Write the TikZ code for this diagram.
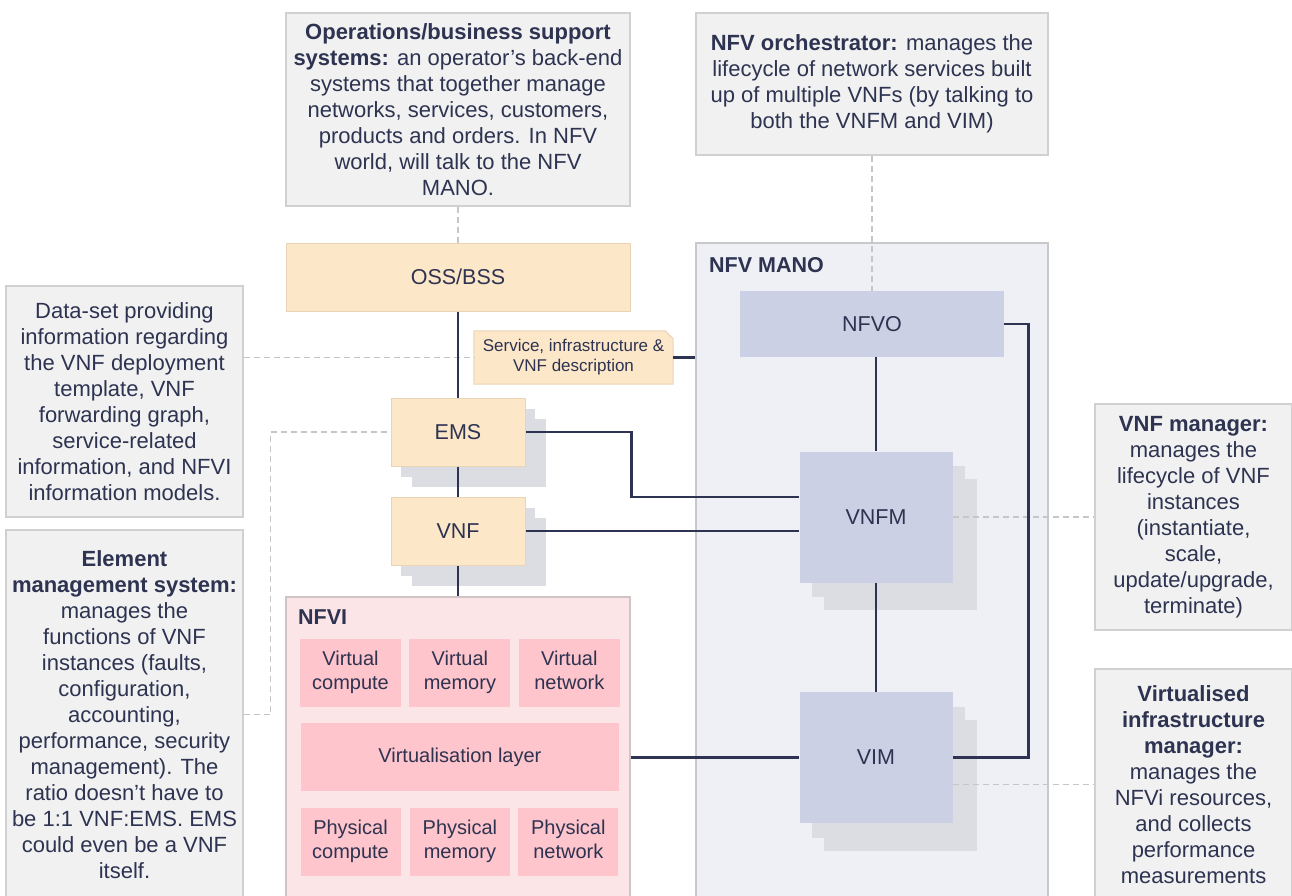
\documentclass[tikz,border=0pt]{standalone}
\usepackage{fontspec}
\setmainfont{Liberation Sans}
\usepackage{tikz}
\usetikzlibrary{backgrounds, positioning}
\definecolor{ink}{HTML}{2D3350}
\definecolor{boxgrey}{HTML}{F1F1F1}
\definecolor{boxline}{HTML}{D0D0D0}
\definecolor{peach}{HTML}{FDE7C9}
\definecolor{peachline}{HTML}{EAD4B6}
\definecolor{manofill}{HTML}{EFF0F6}
\definecolor{manoline}{HTML}{C8C8CD}
\definecolor{lilac}{HTML}{CBD0E4}
\definecolor{shade}{HTML}{DCDDE3}
\definecolor{nfvifill}{HTML}{FCE5E7}
\definecolor{nfviline}{HTML}{CFC3C5}
\definecolor{rose}{HTML}{FEC5CC}
\definecolor{hintgrey}{HTML}{C6C6C6}
\tikzstyle{textbox}=[rectangle, draw=boxline, fill=boxgrey, line width=1.2pt, inner sep=0pt, align=center, text=ink, font=\fontsize{22}{26}\selectfont]
\tikzstyle{peachbox}=[rectangle, draw=peachline, fill=peach, line width=1pt, inner sep=0pt, text=ink, font=\fontsize{21.5}{26}\selectfont]
\tikzstyle{frame}=[rectangle, line width=1.2pt, inner sep=0pt]
\tikzstyle{manobox}=[rectangle, fill=lilac, inner sep=0pt, text=ink, minimum width=153pt, minimum height=131pt, font=\fontsize{21.5}{26}\selectfont]
\tikzstyle{shadowbox}=[rectangle, fill=shade, inner sep=0pt]
\tikzstyle{pinkbox}=[rectangle, fill=rose, inner sep=0pt, align=center, text=ink, minimum height=68pt, font=\fontsize{20}{24}\selectfont]
\tikzstyle{title}=[anchor=west, inner sep=0pt, text=ink, font=\fontsize{21.5}{26}\selectfont\bfseries]
\tikzstyle{link}=[draw=ink, line width=2.6pt]
\tikzstyle{hint}=[draw=hintgrey, line width=1.2pt, dash pattern=on 6pt off 4pt]

\begin{document}
\begin{tikzpicture}[x=1pt, y=-1pt]
    \useasboundingbox (0,0) rectangle (1292,896);

    % explanation boxes
    \node[textbox, minimum width=344pt, minimum height=193pt] (osstxt) at (458,109.5)
        {\textbf{Operations/business support}\\ \textbf{systems:} an operator’s back-end\\ systems that together manage\\ networks, services, customers,\\ products and orders. In NFV\\ world, will talk to the NFV\\ MANO.};
    \node[textbox, minimum width=352pt, minimum height=142pt] (nfvotxt) at (872,84)
        {\textbf{NFV orchestrator:} manages the\\ lifecycle of network services built\\ up of multiple VNFs (by talking to\\ both the VNFM and VIM)};
    \node[textbox, minimum width=237pt, minimum height=231pt] (datatxt) at (124.5,401.5)
        {Data-set providing\\ information regarding\\ the VNF deployment\\ template, VNF\\ forwarding graph,\\ service-related\\ information, and NFVI\\ information models.};
    \node[textbox, minimum width=237pt, minimum height=369pt] (emstxt) at (124.5,714.5)
        {\textbf{Element}\\ \textbf{management system:}\\ manages the\\ functions of VNF\\ instances (faults,\\ configuration,\\ accounting,\\ performance, security\\ management). The\\ ratio doesn’t have to\\ be 1:1 VNF:EMS. EMS\\ could even be a VNF\\ itself.};
    \node[textbox, minimum width=197pt, minimum height=226pt] (vnfmtxt) at (1193.5,517)
        {\textbf{VNF manager:}\\ manages the\\ lifecycle of VNF\\ instances\\ (instantiate,\\ scale,\\ update/upgrade,\\ terminate)};
    \node[textbox, minimum width=197pt, minimum height=231pt] (vimtxt) at (1193.5,784.5)
        {\textbf{Virtualised}\\ \textbf{infrastructure}\\ \textbf{manager:}\\ manages the\\ NFVi resources,\\ and collects\\ performance\\ measurements};

    % containers
    \node[frame, draw=manoline, fill=manofill, minimum width=352pt, minimum height=657pt] (mano) at (872,571.5) {};
    \node[title] (manolbl) at (709,265) {NFV MANO};
    \node[frame, draw=nfviline, fill=nfvifill, minimum width=344pt, minimum height=303pt] (nfvi) at (458,748.5) {};
    \node[title] (nfvilbl) at (298,617) {NFVI};

    \node[peachbox, minimum width=344pt, minimum height=68pt] (oss) at (458,277) {OSS/BSS};
    \node[align=center, inner sep=0pt, text=ink, minimum width=199pt, minimum height=53pt, font=\fontsize{17}{20}\selectfont] (desc) at (573.5,357.5)
        {Service, infrastructure \&\\ VNF description};
    \begin{scope}[on background layer]
        \filldraw[fill=peach, draw=peachline, line width=1pt] (desc.south west) -- (desc.north west)
            -- ([xshift=-8pt]desc.north east) -- ([yshift=-8pt]desc.north east) -- (desc.south east) -- cycle;
    \end{scope}

    % stacked instances
    \node[shadowbox, minimum width=134pt, minimum height=68pt] (ems2) at (479,453) {};
    \node[shadowbox, minimum width=134pt, minimum height=68pt] (ems1) at (468,443) {};
    \node[peachbox, minimum width=134pt, minimum height=68pt] (ems) at (458,432) {EMS};
    \node[shadowbox, minimum width=134pt, minimum height=68pt] (vnf2) at (479,552) {};
    \node[shadowbox, minimum width=134pt, minimum height=68pt] (vnf1) at (468,542) {};
    \node[peachbox, minimum width=134pt, minimum height=68pt] (vnf) at (458,531) {VNF};

    \node[manobox, minimum width=264pt, minimum height=66pt] (nfvo) at (872,324) {NFVO};
    \node[shadowbox, minimum width=153pt, minimum height=131pt] (vnfm2) at (900,544) {};
    \node[shadowbox, minimum width=153pt, minimum height=131pt] (vnfm1) at (888,531) {};
    \node[manobox] (vnfm) at (876,517) {VNFM};
    \node[shadowbox, minimum width=153pt, minimum height=131pt] (vim2) at (900,785) {};
    \node[shadowbox, minimum width=153pt, minimum height=131pt] (vim1) at (888,772) {};
    \node[manobox] (vim) at (876,757.5) {VIM};

    % NFVI resources
    \node[pinkbox, minimum width=101pt] (vcomp) at (350.5,673) {\strut Virtual\\ \strut compute};
    \node[pinkbox, minimum width=101pt] (vmem) [right=8pt of vcomp] {\strut Virtual\\ \strut memory};
    \node[pinkbox, minimum width=101pt] (vnet) [right=8pt of vmem] {\strut Virtual\\ \strut network};
    \node[pinkbox, minimum width=318pt] (vlayer) [below=16pt of vmem] {Virtualisation layer};
    \node[pinkbox, minimum width=100pt] (pmem) [below=16pt of vlayer] {\strut Physical\\ \strut memory};
    \node[pinkbox, minimum width=100pt] (pcomp) [left=9pt of pmem] {\strut Physical\\ \strut compute};
    \node[pinkbox, minimum width=100pt] (pnet) [right=8pt of pmem] {\strut Physical\\ \strut network};

    % dashed pointers
    \draw[hint] (osstxt.south) -- (oss.north);
    \draw[hint] (nfvotxt.south) -- (nfvo.north);
    \draw[hint] (datatxt.east |- desc.west) -- (desc.west);
    \draw[hint] (emstxt.east) -- ++(27,0) |- (ems.west);
    \draw[hint] (vnfm.east) -- (vnfmtxt.west);
    \draw[hint] (vimtxt.west -| vim.east) -- (vimtxt.west);

    % reference points
    \draw[link] (oss.south) -- (ems.north);
    \draw[link] (ems.south) -- (vnf.north);
    \draw[link] (vnf.south) -- (nfvi.north);
    \draw[link] (desc.east) -- (desc.east -| mano.west);
    \draw[link] (ems.east) -- ++(106,0) |- ([yshift=20pt]vnfm.west);
    \draw[link] (vnf.east) -- (vnf.east -| vnfm.west);
    \draw[link] (nfvo.south -| vnfm.north) -- (vnfm.north);
    \draw[link] (vnfm.south) -- (vim.north);
    \draw[link] (vim.west -| nfvi.east) -- (vim.west);
    \draw[link] (nfvo.east) -- ++(24,0) |- (vim.east);
\end{tikzpicture}
\end{document}
